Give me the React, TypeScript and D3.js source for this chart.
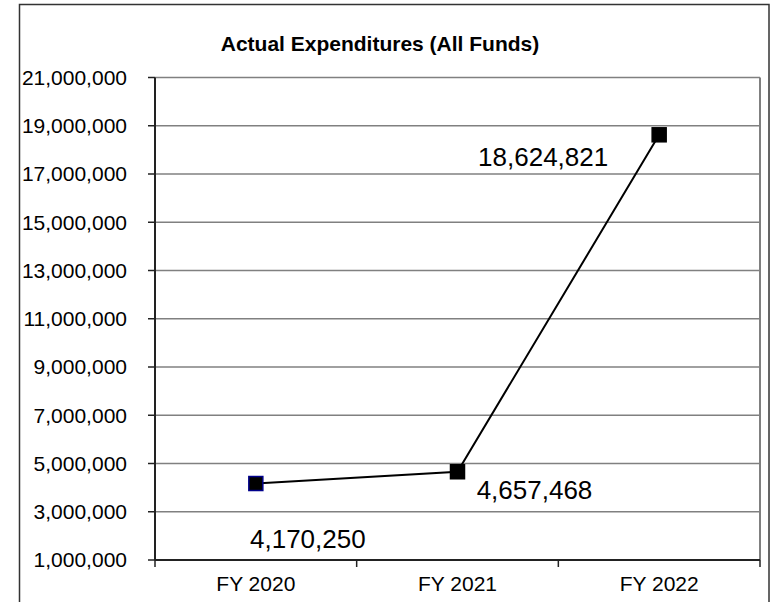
import React from "react"
import * as d3 from "d3"

const years = ["FY 2020", "FY 2021", "FY 2022"]
const expenditures = [4170250, 4657468, 18624821]
const yTicks = [1000000, 3000000, 5000000, 7000000, 9000000, 11000000, 13000000, 15000000, 17000000, 19000000, 21000000]
// label offsets relative to the point (dx, dy)
const labelOffsets = [
	[52, 64],
	[77, 27],
	[-116, 31],
]

const App: React.FC = () => {
	const width = 776
	const height = 602
	const margin = { top: 77.5, right: 16, bottom: 42, left: 155 }
	const innerWidth = width - margin.left - margin.right
	const innerHeight = height - margin.top - margin.bottom

	const x_scale = d3.scaleBand().domain(years).range([0, innerWidth])
	const y_scale = d3.scaleLinear().domain([1000000, 21000000]).range([innerHeight, 0])
	const fmt = d3.format(",")
	const font = "Liberation Sans, Arial, sans-serif"

	const line = d3
		.line<number>()
		.x((d, i) => (x_scale(years[i]) as number) + x_scale.bandwidth() / 2)
		.y((d) => y_scale(d))

	const bounds = [0, ...years.map((y) => (x_scale(y) as number) + x_scale.bandwidth())]

	return (
		<svg
			width={width}
			height={height}
			style={{ position: "absolute", left: 0, top: 0, background: "#fff" }}>
			<rect x={19.5} y={4.5} width={749.5} height={620} fill="none" stroke="#333" strokeWidth={1.5} />
			<text
				x={380}
				y={51}
				textAnchor="middle"
				fontFamily={font}
				fontWeight="bold"
				fontSize={21}>
				Actual Expenditures (All Funds)
			</text>
			<g transform={`translate(${margin.left},${margin.top})`}>
				{yTicks.map((t) => (
					<g key={t}>
						{t > 1000000 && (
							<line x1={0} x2={innerWidth} y1={y_scale(t)} y2={y_scale(t)} stroke="#808080" strokeWidth={1.5} />
						)}
						<line x1={-7} x2={0} y1={y_scale(t)} y2={y_scale(t)} stroke="#222" strokeWidth={1.5} />
						<text
							x={-28}
							y={y_scale(t)}
							dy="0.35em"
							textAnchor="end"
							fontFamily={font}
							fontSize={21}>
							{fmt(t)}
						</text>
					</g>
				))}
				<line x1={innerWidth} x2={innerWidth} y1={0} y2={innerHeight} stroke="#808080" strokeWidth={2} />
				<line x1={0} x2={0} y1={0} y2={innerHeight} stroke="#222" strokeWidth={2} />
				<line x1={0} x2={innerWidth} y1={innerHeight} y2={innerHeight} stroke="#222" strokeWidth={2} />
				{bounds.map((b, i) => (
					<line key={i} x1={b} x2={b} y1={innerHeight} y2={innerHeight + 7} stroke="#222" strokeWidth={1.5} />
				))}
				{years.map((y) => (
					<text
						key={y}
						x={(x_scale(y) as number) + x_scale.bandwidth() / 2}
						y={innerHeight + 31}
						textAnchor="middle"
						fontFamily={font}
						fontSize={21}>
						{y}
					</text>
				))}
				<path d={line(expenditures) || ""} fill="none" stroke="#000" strokeWidth={2} />
				{expenditures.map((v, i) => {
					const cx = (x_scale(years[i]) as number) + x_scale.bandwidth() / 2
					const cy = y_scale(v)
					return (
						<g key={i}>
							<rect
								x={cx - 7}
								y={cy - 7}
								width={14}
								height={14}
								fill="#000"
								stroke={i === 0 ? "#00008b" : "#000"}
								strokeWidth={1.5}
							/>
							<text
								x={cx + labelOffsets[i][0]}
								y={cy + labelOffsets[i][1]}
								textAnchor="middle"
								fontFamily={font}
								fontSize={26}>
								{fmt(v)}
							</text>
						</g>
					)
				})}
			</g>
		</svg>
	)
}

export default App
